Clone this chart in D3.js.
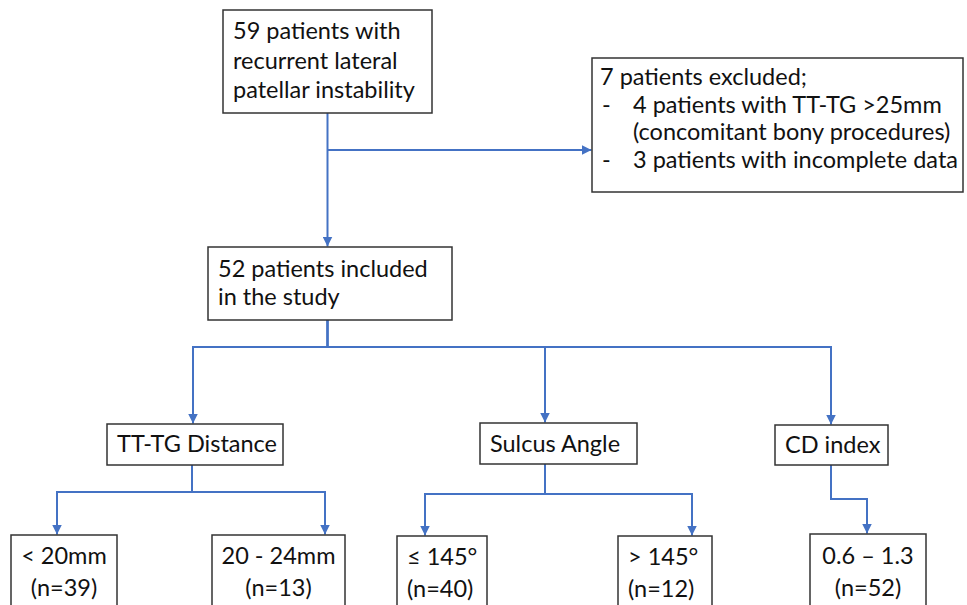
<!DOCTYPE html>
<html><head><meta charset="utf-8">
<script src="https://cdn.jsdelivr.net/npm/d3@7"></script>
<style>body{margin:0;background:#fff}svg{display:block}</style>
</head><body>
<script>
// ---- content ----
const nodeIds = ["start","excluded","included","ttg","sulcus","cdi","ttgLow","ttgHigh","saLow","saHigh","cdRange"];
const nodeLines = [
  ["59 patients with","recurrent lateral","patellar instability"],
  ["7 patients excluded;","4 patients with TT-TG >25mm","(concomitant bony procedures)","3 patients with incomplete data"],
  ["52 patients included","in the study"],
  ["TT-TG Distance"],
  ["Sulcus Angle"],
  ["CD index"],
  ["< 20mm","(n=39)"],
  ["20 - 24mm","(n=13)"],
  ["\u2264 145\u00b0","(n=40)"],
  ["> 145\u00b0","(n=12)"],
  ["0.6 \u2013 1.3","(n=52)"]
];
const excludedBullets = [false,true,false,true]; // lines starting with "-"
const excludedIndented = [false,true,true,true];
const edges = [["start","included"],["start","excluded"],["included","ttg"],["included","sulcus"],["included","cdi"],
  ["ttg","ttgLow"],["ttg","ttgHigh"],["sulcus","saLow"],["sulcus","saHigh"],["cdi","cdRange"]];

// ---- layout (pixel geometry, separate from content) ----
const layout = {
  start:   {x0:223,y0:10, x1:432,y1:113, tx:233, b0:39, lh:29.5, align:"start"},
  excluded:{x0:592,y0:58, x1:963,y1:192, tx:600, b0:85, lh:27.7, align:"start", indent:633, dash:602},
  included:{x0:208,y0:247,x1:452,y1:320, tx:218, b0:277,lh:28,  align:"start"},
  ttg:     {x0:107,y0:424,x1:283,y1:465, tx:117, b0:452,lh:28,  align:"start"},
  sulcus:  {x0:480,y0:423,x1:637,y1:464, tx:490, b0:452,lh:28,  align:"start"},
  cdi:     {x0:775,y0:425,x1:888,y1:465, tx:785, b0:453,lh:28,  align:"start"},
  ttgLow:  {x0:11, y0:535,x1:117,y1:612, b0:564,lh:31.5,align:"middle"},
  ttgHigh: {x0:212,y0:535,x1:345,y1:612, b0:564,lh:31.5,align:"middle"},
  saLow:   {x0:397,y0:536,x1:487,y1:612, tx:407, b0:565,lh:31.5,align:"start"},
  saHigh:  {x0:618,y0:536,x1:712,y1:612, tx:628, b0:565,lh:31.5,align:"start"},
  cdRange: {x0:810,y0:534,x1:926,y1:612, b0:564,lh:31.5,align:"middle"}
};
const routes = {
  "start-included": {kind:"v", x:327.5},
  "start-excluded": {kind:"side", x:327.5, y:150},
  "included-ttg":   {bus:347, sx:327.5, tx:193},
  "included-sulcus":{bus:347, sx:327.5, tx:545},
  "included-cdi":   {bus:347, sx:327.5, tx:831},
  "ttg-ttgLow":     {bus:492, sx:192, tx:57},
  "ttg-ttgHigh":    {bus:492, sx:192, tx:325},
  "sulcus-saLow":   {bus:494, sx:545, tx:425},
  "sulcus-saHigh":  {bus:494, sx:545, tx:692},
  "cdi-cdRange":    {bus:499, sx:831, tx:867}
};

const W=967,H=605;
const blue="#4472C4";
const FS=23.5;
const FONT="Lato, 'Open Sans', sans-serif";
const svg=d3.select("body").append("svg").attr("width",W).attr("height",H);
svg.append("defs").append("marker").attr("id","ah").attr("viewBox","0 0 10 10")
  .attr("refX",10).attr("refY",5).attr("markerWidth",5).attr("markerHeight",5)
  .attr("markerUnits","strokeWidth").attr("orient","auto")
  .append("path").attr("d","M0,0L10,5L0,10z").attr("fill",blue);

const nodes = nodeIds.map((id,i)=>({id, lines:nodeLines[i], ...layout[id]}));
const byId = new Map(nodes.map(n=>[n.id,n]));

const gl = svg.append("g").attr("fill","none").attr("stroke",blue).attr("stroke-width",2);
edges.forEach(([s,t])=>{
  const r=routes[s+"-"+t], S=byId.get(s), T=byId.get(t);
  const p=d3.path();
  if(r.kind==="v"){ p.moveTo(r.x,S.y1); p.lineTo(r.x,T.y0-0.5); }
  else if(r.kind==="side"){ p.moveTo(r.x,r.y); p.lineTo(T.x0-0.5,r.y); }
  else { p.moveTo(r.sx,S.y1); p.lineTo(r.sx,r.bus); p.lineTo(r.tx,r.bus); p.lineTo(r.tx,T.y0-0.5); }
  gl.append("path").attr("d",p.toString()).attr("marker-end","url(#ah)");
});

const g = svg.selectAll("g.node").data(nodes).join("g").attr("class","node");
g.append("rect").attr("x",d=>d.x0).attr("y",d=>d.y0).attr("width",d=>d.x1-d.x0).attr("height",d=>d.y1-d.y0)
  .attr("fill","#fff").attr("stroke","#333").attr("stroke-width",1.5);
g.each(function(d){
  const sel=d3.select(this);
  d.lines.forEach((ln,i)=>{
    const isEx = d.id==="excluded";
    const bullet = isEx && excludedBullets[i];
    const indented = isEx && excludedIndented[i];
    const x = d.align==="middle" ? (d.x0+d.x1)/2 : (indented? d.indent : d.tx);
    sel.append("text").attr("x",x).attr("y",d.b0+i*d.lh).attr("text-anchor",d.align)
      .attr("font-family",FONT).attr("font-size",FS).attr("fill","#111").text(ln);
    if(bullet) sel.append("text").attr("x",d.dash).attr("y",d.b0+i*d.lh)
      .attr("font-family",FONT).attr("font-size",FS).attr("fill","#111").text("-");
  });
});
</script>
</body></html>
